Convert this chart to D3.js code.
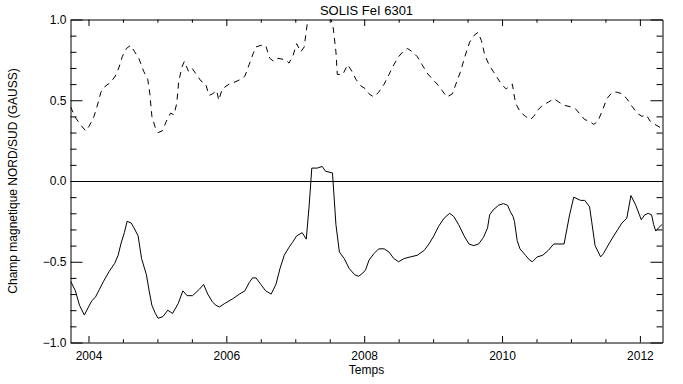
<!DOCTYPE html>
<html>
<head>
<meta charset="utf-8">
<script src="https://cdn.jsdelivr.net/npm/d3@7"></script>
<style>
  body { margin:0; background:#fff; }
  svg text { font-family: "Liberation Sans", Arial, sans-serif; fill:#000; }
</style>
</head>
<body>
<svg id="chart" width="683" height="384"></svg>
<script>
// series (time in years, field in gauss)
const sudTime = [2003.74,2003.81,2003.87,2003.94,2004.00,2004.05,2004.10,2004.16,2004.22,2004.30,2004.38,2004.43,2004.47,2004.52,2004.56,2004.62,2004.66,2004.72,2004.77,2004.84,2004.88,2004.92,2004.97,2005.01,2005.08,2005.15,2005.22,2005.30,2005.37,2005.43,2005.51,2005.61,2005.67,2005.73,2005.80,2005.85,2005.90,2005.97,2006.09,2006.19,2006.27,2006.33,2006.38,2006.43,2006.50,2006.57,2006.65,2006.72,2006.78,2006.84,2006.91,2006.96,2007.02,2007.10,2007.16,2007.20,2007.24,2007.32,2007.39,2007.44,2007.54,2007.59,2007.64,2007.71,2007.78,2007.86,2007.92,2007.98,2008.02,2008.07,2008.14,2008.21,2008.29,2008.36,2008.43,2008.50,2008.58,2008.67,2008.77,2008.87,2008.94,2009.01,2009.08,2009.16,2009.24,2009.30,2009.37,2009.45,2009.52,2009.59,2009.66,2009.73,2009.79,2009.82,2009.87,2009.95,2010.02,2010.08,2010.12,2010.16,2010.18,2010.22,2010.26,2010.34,2010.40,2010.44,2010.51,2010.59,2010.67,2010.75,2010.90,2010.98,2011.04,2011.09,2011.14,2011.20,2011.27,2011.30,2011.35,2011.43,2011.47,2011.55,2011.62,2011.68,2011.74,2011.81,2011.87,2011.94,2012.02,2012.07,2012.12,2012.17,2012.20,2012.23,2012.27,2012.32];
const sudField = [-0.62,-0.68,-0.77,-0.83,-0.78,-0.74,-0.72,-0.67,-0.62,-0.56,-0.51,-0.46,-0.39,-0.32,-0.25,-0.26,-0.29,-0.34,-0.48,-0.58,-0.68,-0.77,-0.82,-0.85,-0.84,-0.80,-0.82,-0.76,-0.68,-0.71,-0.71,-0.67,-0.64,-0.70,-0.75,-0.77,-0.78,-0.76,-0.73,-0.70,-0.68,-0.63,-0.60,-0.60,-0.64,-0.68,-0.70,-0.64,-0.54,-0.46,-0.41,-0.38,-0.34,-0.32,-0.36,-0.16,0.08,0.08,0.09,0.06,0.05,-0.27,-0.44,-0.48,-0.54,-0.58,-0.59,-0.57,-0.55,-0.49,-0.45,-0.42,-0.42,-0.44,-0.48,-0.50,-0.48,-0.47,-0.46,-0.43,-0.39,-0.34,-0.28,-0.23,-0.20,-0.22,-0.27,-0.34,-0.39,-0.40,-0.39,-0.35,-0.29,-0.21,-0.18,-0.15,-0.14,-0.15,-0.19,-0.22,-0.25,-0.37,-0.42,-0.46,-0.49,-0.50,-0.47,-0.46,-0.43,-0.39,-0.39,-0.21,-0.10,-0.11,-0.12,-0.12,-0.16,-0.25,-0.40,-0.47,-0.45,-0.39,-0.34,-0.30,-0.26,-0.23,-0.09,-0.15,-0.24,-0.21,-0.20,-0.21,-0.27,-0.31,-0.29,-0.27];

const nordTime = [2003.74,2003.80,2003.88,2003.96,2004.01,2004.08,2004.13,2004.18,2004.25,2004.32,2004.39,2004.44,2004.49,2004.55,2004.61,2004.67,2004.73,2004.80,2004.86,2004.89,2004.92,2004.97,2005.01,2005.07,2005.13,2005.19,2005.24,2005.28,2005.31,2005.36,2005.39,2005.45,2005.50,2005.58,2005.63,2005.70,2005.75,2005.80,2005.86,2005.89,2005.94,2006.04,2006.11,2006.21,2006.27,2006.33,2006.39,2006.43,2006.50,2006.57,2006.63,2006.69,2006.75,2006.86,2006.91,2006.97,2007.02,2007.08,2007.13,2007.16,2007.19,2007.26,2007.35,2007.45,2007.52,2007.55,2007.59,2007.61,2007.69,2007.76,2007.82,2007.88,2007.95,2008.02,2008.07,2008.14,2008.21,2008.29,2008.36,2008.43,2008.50,2008.58,2008.63,2008.70,2008.77,2008.84,2008.91,2008.99,2009.06,2009.13,2009.20,2009.28,2009.33,2009.40,2009.46,2009.53,2009.59,2009.65,2009.70,2009.75,2009.81,2009.87,2009.93,2009.99,2010.06,2010.12,2010.15,2010.18,2010.20,2010.26,2010.34,2010.41,2010.46,2010.52,2010.59,2010.68,2010.75,2010.82,2010.89,2010.99,2011.06,2011.14,2011.20,2011.27,2011.33,2011.39,2011.45,2011.52,2011.60,2011.67,2011.74,2011.81,2011.89,2011.96,2012.03,2012.09,2012.15,2012.22,2012.30,2012.32];
const nordField = [0.46,0.40,0.35,0.31,0.34,0.40,0.47,0.55,0.59,0.61,0.65,0.70,0.77,0.82,0.84,0.80,0.76,0.68,0.63,0.54,0.40,0.33,0.30,0.31,0.37,0.42,0.41,0.48,0.62,0.71,0.74,0.68,0.70,0.65,0.62,0.60,0.53,0.54,0.56,0.50,0.57,0.60,0.61,0.63,0.65,0.72,0.79,0.83,0.84,0.84,0.76,0.74,0.76,0.75,0.73,0.78,0.85,0.80,0.83,0.93,1.02,1.10,1.12,1.08,1.00,0.95,0.80,0.66,0.66,0.72,0.68,0.63,0.59,0.57,0.54,0.52,0.55,0.60,0.66,0.72,0.77,0.81,0.82,0.80,0.77,0.72,0.67,0.63,0.60,0.56,0.52,0.54,0.60,0.68,0.77,0.86,0.90,0.92,0.87,0.78,0.72,0.68,0.64,0.60,0.57,0.59,0.60,0.52,0.48,0.43,0.40,0.38,0.40,0.44,0.47,0.49,0.51,0.49,0.47,0.46,0.45,0.41,0.38,0.37,0.35,0.37,0.43,0.51,0.55,0.55,0.54,0.51,0.46,0.42,0.40,0.41,0.37,0.35,0.33,0.32];

const xMajor = [2004, 2006, 2008, 2010, 2012];
const xMinor = d3.range(2004, 2012.01, 0.5).filter(v => v % 2 !== 0);
const yMajor = [-1, -0.5, 0, 0.5, 1];
const yMinor = d3.range(-9, 10).map(v => v / 10).filter(v => Math.abs(v * 2) % 1 > 0.01);

const title = "SOLIS FeI 6301";
const xTitle = "Temps";
const yTitle = "Champ magnetique NORD/SUD (GAUSS)";

const margin = {top:19.5, right:20.5, bottom:41.5, left:70.5};
const width = 683, height = 384;

const svg = d3.select("#chart");

const x = d3.scaleLinear([2003.739, 2012.328], [margin.left, width - margin.right]);
const y = d3.scaleLinear([-1, 1], [height - margin.bottom, margin.top]);

const tickLenX = 6.5, tickLenY = 12;

// bottom axis
svg.append("g")
  .attr("transform", `translate(0,${height - margin.bottom})`)
  .call(d3.axisBottom(x).tickValues(xMajor).tickFormat(d3.format("d"))
    .tickSizeInner(-tickLenX).tickSizeOuter(0).tickPadding(9))
  .call(g => g.selectAll("text").attr("font-size", 12));
svg.append("g")
  .attr("transform", `translate(0,${height - margin.bottom})`)
  .call(d3.axisBottom(x).tickValues(xMinor).tickFormat("")
    .tickSizeInner(-tickLenX / 2).tickSizeOuter(0))
  .call(g => g.select(".domain").remove());

// top axis
svg.append("g")
  .attr("transform", `translate(0,${margin.top})`)
  .call(d3.axisTop(x).tickValues(xMajor).tickFormat("")
    .tickSizeInner(-tickLenX).tickSizeOuter(0));
svg.append("g")
  .attr("transform", `translate(0,${margin.top})`)
  .call(d3.axisTop(x).tickValues(xMinor).tickFormat("")
    .tickSizeInner(-tickLenX / 2).tickSizeOuter(0))
  .call(g => g.select(".domain").remove());

// left axis
svg.append("g")
  .attr("transform", `translate(${margin.left},0)`)
  .call(d3.axisLeft(y).tickValues(yMajor).tickFormat(d3.format(".1f"))
    .tickSizeInner(-tickLenY).tickSizeOuter(0).tickPadding(4))
  .call(g => g.selectAll("text").attr("font-size", 12));
svg.append("g")
  .attr("transform", `translate(${margin.left},0)`)
  .call(d3.axisLeft(y).tickValues(yMinor).tickFormat("")
    .tickSizeInner(-tickLenY / 2).tickSizeOuter(0))
  .call(g => g.select(".domain").remove());

// right axis
svg.append("g")
  .attr("transform", `translate(${width - margin.right},0)`)
  .call(d3.axisRight(y).tickValues(yMajor).tickFormat("")
    .tickSizeInner(-tickLenY).tickSizeOuter(0));
svg.append("g")
  .attr("transform", `translate(${width - margin.right},0)`)
  .call(d3.axisRight(y).tickValues(yMinor).tickFormat("")
    .tickSizeInner(-tickLenY / 2).tickSizeOuter(0))
  .call(g => g.select(".domain").remove());

svg.selectAll(".domain, .tick line").attr("stroke", "#000").attr("stroke-width", 1);

// zero line
svg.append("line")
  .attr("x1", margin.left).attr("x2", width - margin.right)
  .attr("y1", Math.round(y(0)) + 0.5).attr("y2", Math.round(y(0)) + 0.5)
  .attr("stroke", "#000");

svg.append("clipPath").attr("id", "clip")
  .append("rect")
  .attr("x", margin.left).attr("y", margin.top)
  .attr("width", width - margin.right - margin.left)
  .attr("height", height - margin.bottom - margin.top);

const line = d3.line().x(d => x(d[0])).y(d => y(d[1]));

svg.append("path")
  .datum(d3.zip(sudTime, sudField))
  .attr("clip-path", "url(#clip)")
  .attr("fill", "none").attr("stroke", "#000").attr("stroke-width", 1)
  .attr("d", line);

svg.append("path")
  .datum(d3.zip(nordTime, nordField))
  .attr("clip-path", "url(#clip)")
  .attr("fill", "none").attr("stroke", "#000").attr("stroke-width", 1)
  .attr("stroke-dasharray", "6,5")
  .attr("d", line);

// titles
svg.append("text")
  .attr("x", (margin.left + width - margin.right) / 2).attr("y", 15)
  .attr("text-anchor", "middle").attr("font-size", 13)
  .text(title);

svg.append("text")
  .attr("x", (margin.left + width - margin.right) / 2).attr("y", 374)
  .attr("text-anchor", "middle").attr("font-size", 12)
  .text(xTitle);

svg.append("text")
  .attr("transform", `translate(17,${(margin.top + height - margin.bottom) / 2}) rotate(-90)`)
  .attr("text-anchor", "middle").attr("font-size", 12)
  .text(yTitle);
</script>
</body>
</html>
